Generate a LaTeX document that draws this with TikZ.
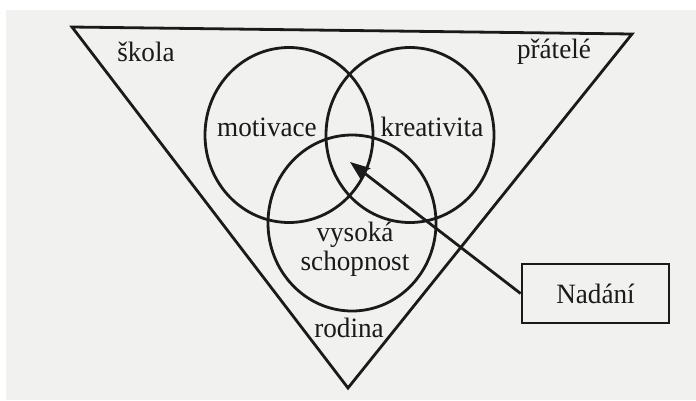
\documentclass[tikz,border=0pt]{standalone}
\usepackage{fontspec}
\setmainfont[FakeStretch=0.97]{Liberation Serif}
\usetikzlibrary{arrows.meta,shapes.geometric}
\definecolor{paper}{HTML}{F1F1F0}
\definecolor{ink}{HTML}{1A1A1A}
\begin{document}
\begin{tikzpicture}[x=1pt,y=-1pt,
  shape line/.style={draw=ink,line width=2.8pt,line join=miter},
  lbl/.style={font=\fontsize{28}{29}\selectfont,text=ink,inner sep=0pt},
  boxstyle/.style={draw=ink,line width=2.8pt,minimum width=147pt,minimum height=59pt,inner sep=0pt,font=\fontsize{28}{29}\selectfont,text=ink},
  pointer/.style={draw=ink,line width=2.8pt,-{Stealth[length=20pt,width=15pt,inset=3pt]}}]
\useasboundingbox (0,0) rectangle (696,400);
\fill[white] (0,0) rectangle (696,400);
\fill[paper] (6,10) rectangle (696,400);
% triangle
\coordinate (tl) at (72,27);
\coordinate (tr) at (632,34);
\coordinate (bt) at (348,388);
\draw[shape line] (tl) -- (tr) -- (bt) -- cycle;
% circles
\node[shape line,ellipse,minimum width=168pt,minimum height=175pt,inner sep=0pt] (cm) at (289,135) {};
\node[shape line,ellipse,minimum width=168pt,minimum height=175pt,inner sep=0pt] (ck) at (410,135) {};
\node[shape line,ellipse,minimum width=168pt,minimum height=176pt,inner sep=0pt] (cv) at (352,223) {};
% labels
\node[lbl] (skola) at (146,52) {škola};
\node[lbl] (pratele) at (554,52) {přátelé};
\node[lbl] (motivace) at (267,127) {motivace};
\node[lbl] (kreativita) at (432,127) {kreativita};
\node[lbl,align=center] (vysoka) at (355,249) {vysoká\\[0pt]schopnost};
\node[lbl] (rodina) at (349,328) {rodina};
% box
\node[boxstyle] (nadani) at (595.5,293.5) {Nadání};
\coordinate (tip) at (350,162);
\draw[pointer] (nadani.west) -- (tip);
\end{tikzpicture}
\end{document}
